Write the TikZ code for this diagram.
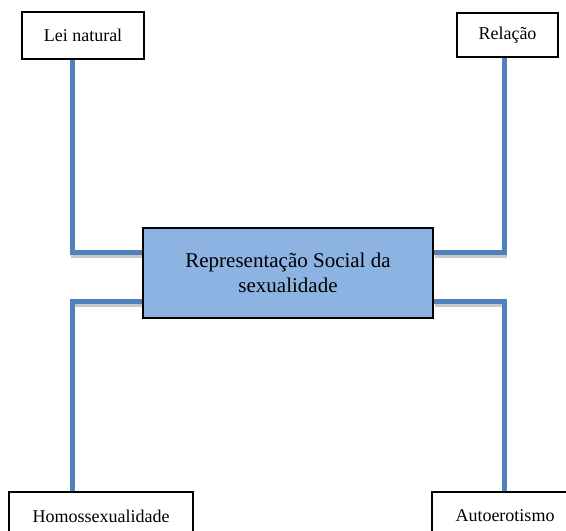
\documentclass[tikz,border=0pt]{standalone}
\usepackage{fontspec}
\setmainfont{Liberation Serif}
\usetikzlibrary{backgrounds}
\definecolor{linkblue}{RGB}{79,129,189}
\definecolor{corefill}{RGB}{141,179,226}
\definecolor{linkshade}{RGB}{200,200,200}
\begin{document}
\begin{tikzpicture}[x=1pt,y=-1pt,
  box/.style={draw=black, line width=2pt, fill=white, inner sep=0pt,
    align=center, font=\fontsize{18}{21}\selectfont},
  core/.style={box, fill=corefill, font=\fontsize{21}{25}\selectfont},
  link/.style={draw=linkblue, line width=5pt},
  linkback/.style={draw=linkshade, line width=4.5pt,
    transform canvas={shift={(1pt,-4pt)}}},
]
\useasboundingbox (0,0) rectangle (566,531);

% concept boxes
\node[box, minimum width=122pt, minimum height=47pt] (lei) at (83,35.5) {Lei natural};
\node[box, minimum width=101pt, minimum height=44pt] (rel) at (507.5,35) {Relação};
\node[core, minimum width=290pt, minimum height=90pt] (rep) at (288,273)
  {Representação Social da\\sexualidade};
\node[box, minimum width=184pt, minimum height=48pt] (homo) at (101,516) {Homossexualidade};
\node[box, minimum width=146pt, minimum height=48pt] (auto) at (505,516) {Autoerotismo};

% elbows of the connectors
\coordinate (tl) at (72,252);
\coordinate (tr) at (504,252);
\coordinate (bl) at (72,301);
\coordinate (br) at (504,301);

\begin{scope}[on background layer]
  \foreach \st in {linkback, link} {
    \draw[\st] (lei.south -| tl) -- (tl) -- (tl -| rep.west);
    \draw[\st] (rel.south -| tr) -- (tr) -- (tr -| rep.east);
    \draw[\st] (rep.west |- bl) -- (bl) -- (bl |- homo.north);
    \draw[\st] (rep.east |- br) -- (br) -- (br |- auto.north);
  }
\end{scope}
\end{tikzpicture}
\end{document}
